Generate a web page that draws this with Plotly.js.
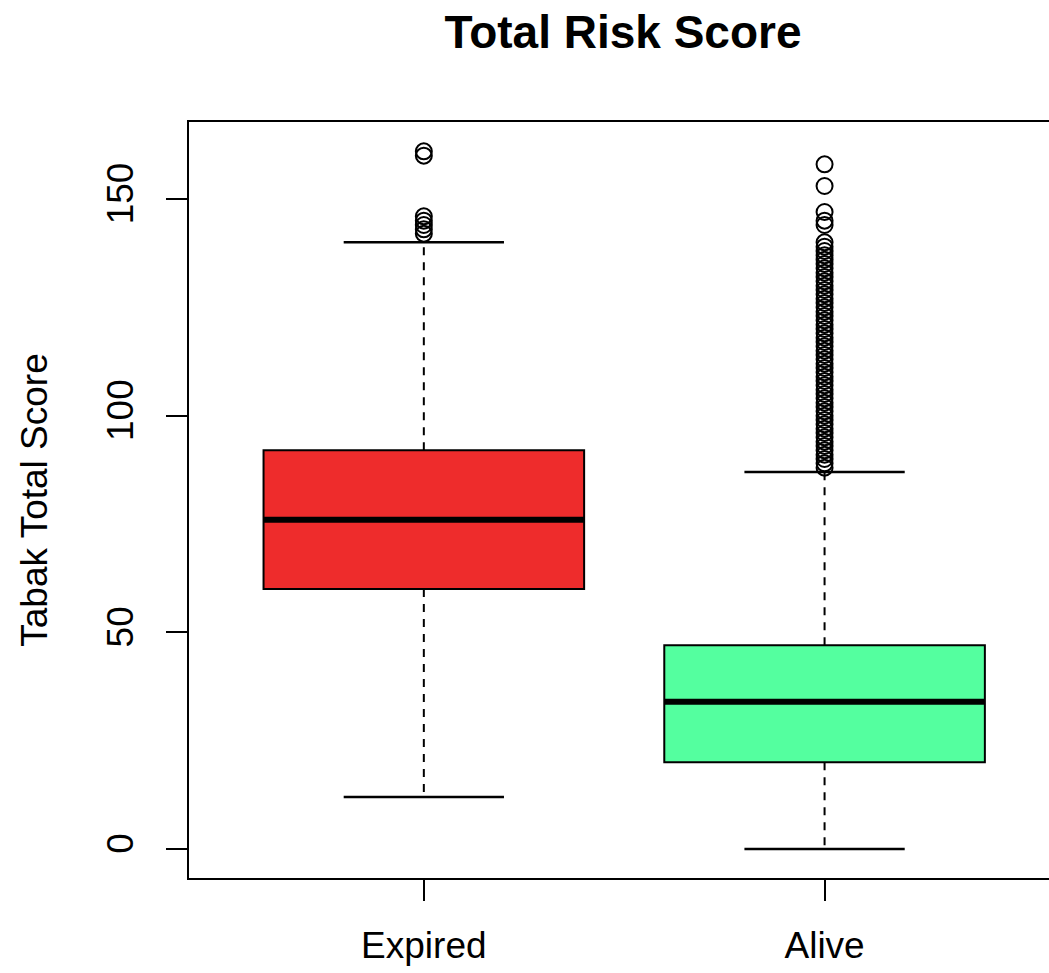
<!DOCTYPE html>
<html>
<head>
<meta charset="utf-8">
<script src="https://cdn.plot.ly/plotly-3.0.1.min.js"></script>
<style>
html, body { margin: 0; padding: 0; overflow: hidden; background: #ffffff; }
#chart { width: 1060px; height: 973px; }
</style>
</head>
<body>
<div id="chart"></div>
<script>
// ---- data ----
const categories = ["Expired", "Alive"];
const positions = [1, 2];
const q1 = [60, 20];
const medians = [76, 34];
const q3 = [92, 47];
const lowerWhisker = [12, 0];
const upperWhisker = [140, 87];
const outliersExpired = [142, 143, 144, 145, 146, 160, 161];
const outliersAlive = [88, 89, 90, 91, 92, 93, 94, 95, 96, 97, 98, 99, 100, 101, 102, 103, 104, 105,
  106, 107, 108, 109, 110, 111, 112, 113, 114, 115, 116, 117, 118, 119, 120, 121, 122, 123, 124,
  125, 126, 127, 128, 129, 130, 131, 132, 133, 134, 135, 136, 137, 138, 139, 140, 144, 145, 147, 153, 158];
const fills = ["#EE2C2C", "#54FF9F"];
const yTicks = [0, 50, 100, 150];

const BOXW = 0.8, CAPHALF = 0.2;
const traces = [];

// boxes (whiskers drawn separately to get R's dashed style)
categories.forEach((c, i) => {
  traces.push({
    type: "box", name: c, x: [positions[i]],
    q1: [q1[i]], median: [medians[i]], q3: [q3[i]],
    lowerfence: [q1[i]], upperfence: [q3[i]],
    width: BOXW, whiskerwidth: 0,
    fillcolor: fills[i], line: { color: "#000000", width: 2 },
    boxpoints: false, hoverinfo: "skip", showlegend: false
  });
});

categories.forEach((c, i) => {
  const p = positions[i];
  // dashed whiskers
  traces.push({
    type: "scatter", mode: "lines", showlegend: false, hoverinfo: "skip",
    x: [p, p, null, p, p],
    y: [q3[i], upperWhisker[i], null, q1[i], lowerWhisker[i]],
    line: { color: "#000000", width: 2, dash: "8px,7px" }
  });
  // staples
  traces.push({
    type: "scatter", mode: "lines", showlegend: false, hoverinfo: "skip",
    x: [p - CAPHALF, p + CAPHALF, null, p - CAPHALF, p + CAPHALF],
    y: [upperWhisker[i], upperWhisker[i], null, lowerWhisker[i], lowerWhisker[i]],
    line: { color: "#000000", width: 2.5 }
  });
  // thick median
  traces.push({
    type: "scatter", mode: "lines", showlegend: false, hoverinfo: "skip",
    x: [p - BOXW / 2, p + BOXW / 2],
    y: [medians[i], medians[i]],
    line: { color: "#000000", width: 6 }
  });
});

// outliers
[outliersExpired, outliersAlive].forEach((vals, i) => {
  traces.push({
    type: "scatter", mode: "markers", showlegend: false,
    x: vals.map(() => positions[i]), y: vals,
    marker: { symbol: "circle-open", size: 16, color: "#000000", line: { width: 2 } }
  });
});

const font = { family: "Liberation Sans, Arial, sans-serif", color: "#000000" };

const layout = {
  width: 1060, height: 973,
  margin: { l: 189, r: 3, t: 122, b: 95, pad: 0 },
  paper_bgcolor: "#ffffff", plot_bgcolor: "#ffffff",
  font: Object.assign({ size: 37 }, font),
  title: {
    text: "<b>Total Risk Score</b>",
    font: Object.assign({ size: 46 }, font),
    x: 0.5, xref: "paper", xanchor: "center",
    y: 1 - 32 / 973, yref: "container", yanchor: "middle"
  },
  xaxis: {
    range: [0.414, 2.58], tickmode: "array", tickvals: positions, ticktext: categories,
    showgrid: false, zeroline: false, showline: true, mirror: true,
    linecolor: "#000000", linewidth: 2,
    ticks: "outside", ticklen: 21, tickwidth: 2, tickcolor: "#000000",
    ticklabelstandoff: 13,
    tickfont: Object.assign({ size: 37 }, font)
  },
  yaxis: {
    range: [-6.69, 167.77], tickmode: "array", tickvals: yTicks, ticktext: yTicks.map(String),
    tickangle: -90,
    showgrid: false, zeroline: false, showline: true, mirror: true,
    linecolor: "#000000", linewidth: 2,
    ticks: "outside", ticklen: 21, tickwidth: 2, tickcolor: "#000000",
    ticklabelstandoff: 18,
    tickfont: Object.assign({ size: 37 }, font),
    title: { text: "Tabak Total Score", font: Object.assign({ size: 37 }, font), standoff: 41 },
    automargin: false
  }
};

Plotly.newPlot("chart", traces, layout, { staticPlot: true, displayModeBar: false });
</script>
</body>
</html>
